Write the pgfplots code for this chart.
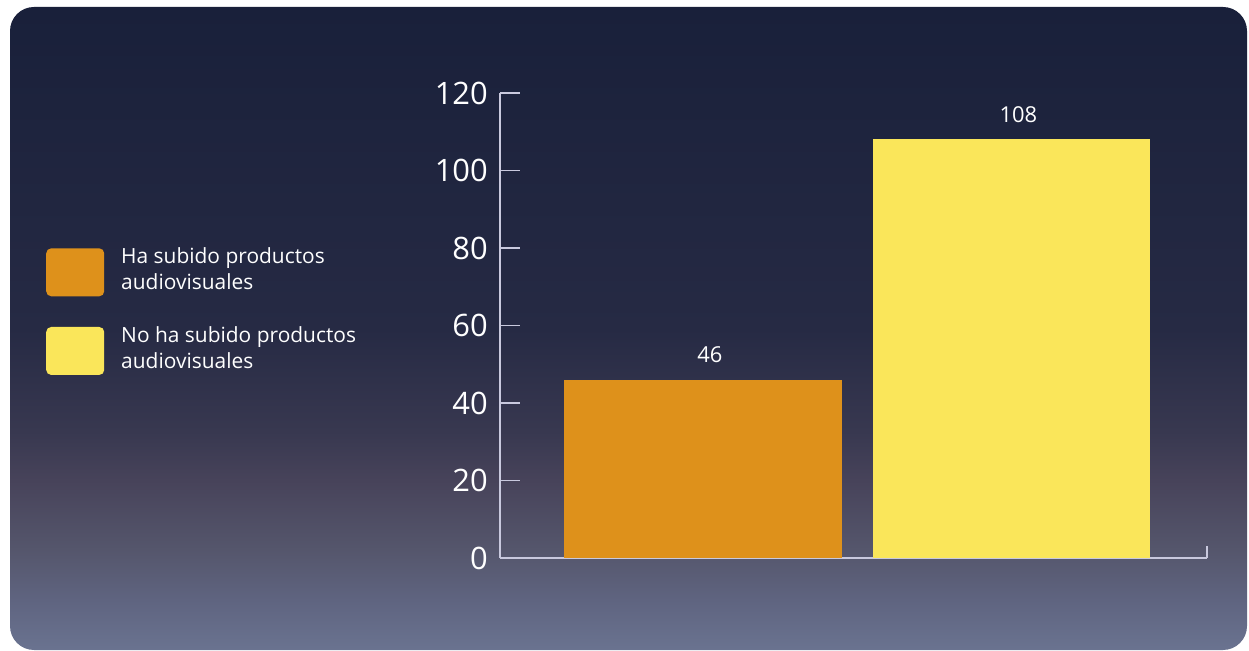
\documentclass[border=0pt]{standalone}
\usepackage{pgfplots}
\pgfplotsset{compat=1.18}
\usepackage{fontspec}
\setmainfont{Open Sans}
\definecolor{axiscol}{HTML}{C9C9DE}
\definecolor{barorange}{HTML}{DE911B}
\definecolor{baryellow}{HTML}{FAE65A}
\definecolor{c0}{HTML}{6A7390}
\definecolor{c1}{HTML}{5F6480}
\definecolor{c2}{HTML}{55566C}
\definecolor{c3}{HTML}{47435A}
\definecolor{c4}{HTML}{383850}
\definecolor{c5}{HTML}{262A44}
\definecolor{c6}{HTML}{19203A}
\pgfdeclareverticalshading{bgshade}{100bp}{color(0bp)=(c0); color(25bp)=(c0); color(28.9bp)=(c1); color(32.8bp)=(c2); color(38.2bp)=(c3); color(42bp)=(c4); color(50bp)=(c5); color(75bp)=(c6); color(100bp)=(c6)}
\pgfplotsset{legbox/.style={legend image code/.code={\fill[##1, draw=none, rounded corners=5bp] (0bp,-27bp) rectangle (58bp,21bp);}}}
\begin{document}
\begin{tikzpicture}
\useasboundingbox (0,0) rectangle (1249bp,651bp);
\fill[white] (0,0) rectangle (1249bp,651bp);
\shade[shading=bgshade, rounded corners=24bp] (10bp,1bp) rectangle (1247bp,644bp);
\begin{axis}[
  at={(500bp,93bp)}, anchor=south west,
  scale only axis, width=707bp, height=465bp,
  xmin=-0.658, xmax=1.634, ymin=0, ymax=120,
  axis x line*=bottom, axis y line*=left,
  axis line style={draw=axiscol, line width=1.5bp, -},
  x axis line style={-}, y axis line style={-},
  xtick=\empty,
  ytick={0,20,40,60,80,100,120},
  tick align=inside, major tick length=20bp,
  tick style={draw=axiscol, line width=1.5bp},
  yticklabel style={font=\fontsize{31}{31}\selectfont, text=white, inner sep=0pt, xshift=-12bp},
  /pgf/number format/assume math mode=true,
  ybar, bar width=0.9, bar shift=0pt,
  nodes near coords,
  every node near coord/.append style={font=\fontsize{22}{22}\selectfont, text=white, inner sep=0pt, anchor=south, yshift=17bp, xshift=7bp},
  legend style={at={(-0.6421,0.6678)}, anchor=north west, draw=none, fill=none, inner sep=0pt,
    row sep=30bp, font=\fontsize{21}{26}\selectfont, text=white, cells={align=left},
    nodes={inner sep=0pt}, /tikz/every odd column/.append style={column sep=17bp}},
  legend cell align=left,
  clip=false,
]
\addplot[fill=barorange, draw=none, legbox] coordinates {(0,46)};
\addlegendentry{Ha subido productos\\audiovisuales}
\addplot[fill=baryellow, draw=none, legbox] coordinates {(1,108)};
\addlegendentry{No ha subido productos\\audiovisuales}
\draw[axiscol, line width=1.5bp] (rel axis cs:1,0) -- ++(0bp,12bp);
\end{axis}
\end{tikzpicture}
\end{document}
